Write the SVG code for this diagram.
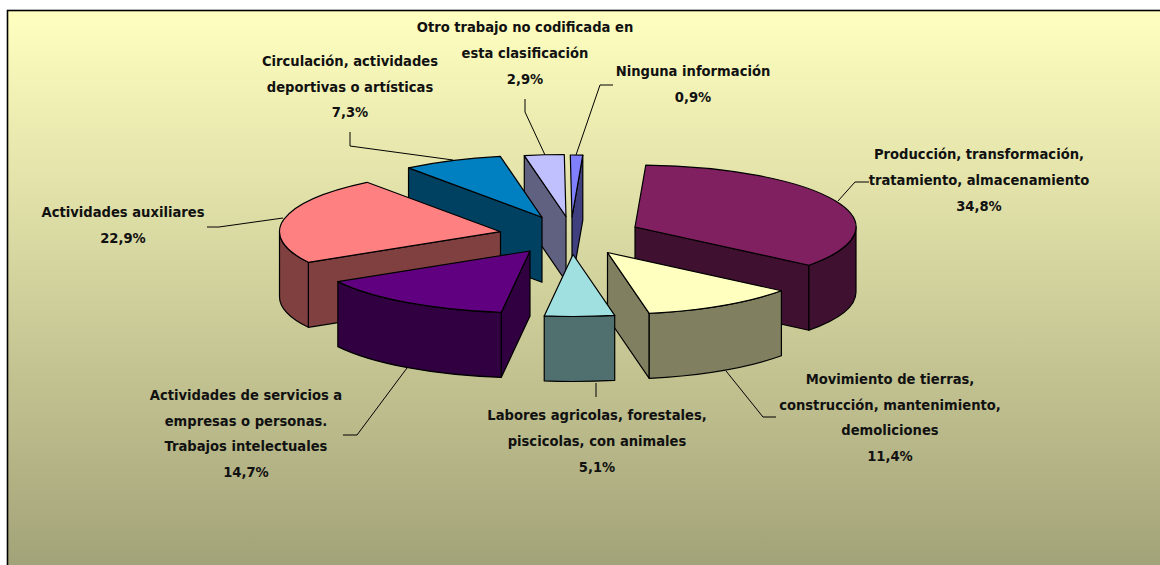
<svg xmlns="http://www.w3.org/2000/svg" width="1160" height="565" viewBox="0 0 1160 565">
<defs>
<linearGradient id="bg" x1="0" y1="10" x2="0" y2="565" gradientUnits="userSpaceOnUse">
<stop offset="0" stop-color="#FFFFC0"/>
<stop offset="1" stop-color="#A3A379"/>
</linearGradient>
<style>
.e{stroke:#000;stroke-width:1.2;stroke-linejoin:round}
.lead{fill:none;stroke:#000;stroke-width:1}
text{font-family:"DejaVu Sans Condensed","DejaVu Sans",sans-serif;font-stretch:condensed;font-weight:bold;font-size:14.6px;fill:#111;text-anchor:middle}
</style>
</defs>
<rect x="0" y="0" width="1160" height="565" fill="#FFFFFF"/>
<rect x="7.5" y="10.5" width="1170" height="570" fill="url(#bg)" stroke="#000" stroke-width="1.6"/>

<g id="slice-produccion">
<path class="e" fill="#401030" d="M635,227 L808.91,265.26 L808.91,330.26 L635,292 Z"/>
<path class="e" fill="#401030" d="M808.91,265.26 A221,62 0 0 0 856,227 L856,292 A221,62 0 0 1 808.91,330.26 Z"/>
<path class="e" fill="#802060" d="M635,227 L808.91,265.26 A221,62 0 0 0 645.8,165.07 Z"/>
</g>
<g id="slice-ninguna">
<path class="e" fill="#404080" d="M572,217 L582.8,155.07 L582.8,220.07 L572,282 Z"/>
<path class="e" fill="#8080FF" d="M572,217 L582.8,155.07 A221,62 0 0 0 570.3,155 Z"/>
</g>
<g id="slice-otro">
<path class="e" fill="#606080" d="M566,216.5 L524.29,155.61 L524.29,220.61 L566,281.5 Z"/>
<path class="e" fill="#C0C0FF" d="M566,216.5 L564.3,154.5 A221,62 0 0 0 524.29,155.61 Z"/>
</g>
<g id="slice-circulacion">
<path class="e" fill="#004060" d="M542,217.3 L408.52,167.89 L408.52,232.89 L542,282.3 Z"/>
<path class="e" fill="#0080C0" d="M542,217.3 L500.29,156.41 A221,62 0 0 0 408.52,167.89 Z"/>
</g>
<g id="slice-auxiliares">
<path class="e" fill="#804040" d="M500.5,231.7 L308.34,262.33 L308.34,327.33 L500.5,296.7 Z"/>
<path class="e" fill="#804040" d="M279.5,231.7 A221,62 0 0 0 308.34,262.33 L308.34,327.33 A221,62 0 0 1 279.5,296.7 Z"/>
<path class="e" fill="#FF8080" d="M500.5,231.7 L367.02,182.29 A221,62 0 0 0 308.34,262.33 Z"/>
</g>
<g id="slice-servicios">
<path class="e" fill="#300040" d="M530,251 L501.23,312.47 L501.23,377.47 L530,316 Z"/>
<path class="e" fill="#300040" d="M337.84,281.63 A221,62 0 0 0 501.23,312.47 L501.23,377.47 A221,62 0 0 1 337.84,346.63 Z"/>
<path class="e" fill="#600080" d="M530,251 L337.84,281.63 A221,62 0 0 0 501.23,312.47 Z"/>
</g>
<g id="slice-movimiento">
<path class="e" fill="#808060" d="M607.5,252.5 L649.21,313.39 L649.21,378.39 L607.5,317.5 Z"/>
<path class="e" fill="#808060" d="M649.21,313.39 A221,62 0 0 0 781.41,290.76 L781.41,355.76 A221,62 0 0 1 649.21,378.39 Z"/>
<path class="e" fill="#FFFFC0" d="M607.5,252.5 L649.21,313.39 A221,62 0 0 0 781.41,290.76 Z"/>
</g>
<g id="slice-labores">
<path class="e" fill="#507070" d="M544.23,315.97 A221,62 0 0 0 614.71,315.39 L614.71,380.39 A221,62 0 0 1 544.23,380.97 Z"/>
<path class="e" fill="#A0E0E0" d="M573,254.5 L544.23,315.97 A221,62 0 0 0 614.71,315.39 Z"/>
</g>

<g id="connectors">
<polyline class="lead" points="525,99 525,112 545,155"/>
<polyline class="lead" points="613,85 600,85 576,155"/>
<polyline class="lead" points="350,132 350,146 453,160"/>
<polyline class="lead" points="869,182 855,182 838,201"/>
<polyline class="lead" points="207,227 219,227 283,218"/>
<polyline class="lead" points="343,435 357,435 407,368"/>
<polyline class="lead" points="596,383 596,397"/>
<polyline class="lead" points="776,417 763,417 726,371"/>
</g>

<g id="label-otro">
<text x="525" y="32">Otro trabajo no codificada en</text>
<text x="525" y="57.5">esta clasificación</text>
<text x="525" y="83.5">2,9%</text>
</g>
<g id="label-circulacion">
<text x="350" y="66">Circulación, actividades</text>
<text x="350" y="92">deportivas o artísticas</text>
<text x="350" y="117">7,3%</text>
</g>
<g id="label-ninguna">
<text x="693" y="76">Ninguna información</text>
<text x="693" y="102">0,9%</text>
</g>
<g id="label-produccion">
<text x="979" y="159">Producción, transformación,</text>
<text x="979" y="185">tratamiento, almacenamiento</text>
<text x="979" y="211">34,8%</text>
</g>
<g id="label-auxiliares">
<text x="123" y="217">Actividades auxiliares</text>
<text x="123" y="243">22,9%</text>
</g>
<g id="label-servicios">
<text x="246" y="400">Actividades de servicios a</text>
<text x="246" y="426">empresas o personas.</text>
<text x="246" y="451">Trabajos intelectuales</text>
<text x="246" y="477">14,7%</text>
</g>
<g id="label-labores">
<text x="597" y="420">Labores agricolas, forestales,</text>
<text x="597" y="446">piscicolas, con animales</text>
<text x="597" y="471.5">5,1%</text>
</g>
<g id="label-movimiento">
<text x="890" y="384">Movimiento de tierras,</text>
<text x="890" y="410">construcción, mantenimiento,</text>
<text x="890" y="435">demoliciones</text>
<text x="890" y="461">11,4%</text>
</g>
</svg>
